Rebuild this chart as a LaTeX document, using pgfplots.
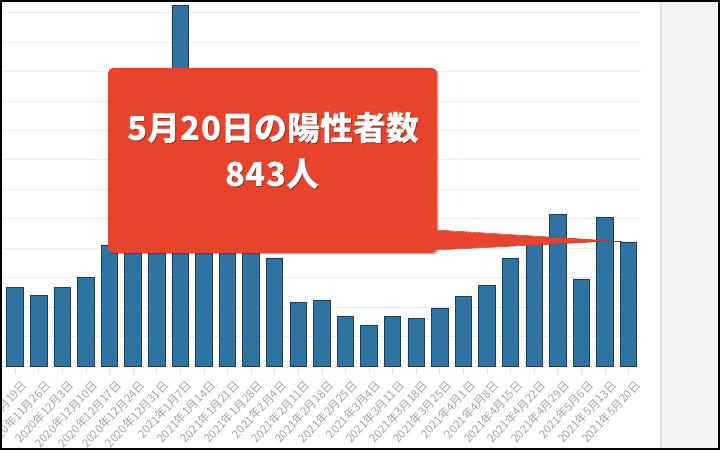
\documentclass[border=0pt]{standalone}
\usepackage{fontspec}
\usepackage{pgfplots}
\pgfplotsset{compat=1.18}
\newfontfamily\cjk{Noto Sans CJK JP}

\definecolor{barblue}{RGB}{47,115,160}
\definecolor{baredge}{RGB}{28,62,90}
\definecolor{callout}{RGB}{231,67,45}
\definecolor{calloutedge}{RGB}{190,50,32}
\definecolor{gridgray}{RGB}{236,236,236}
\definecolor{labelgray}{RGB}{165,165,165}
\definecolor{panelgray}{RGB}{244,244,244}

\begin{document}
\begin{tikzpicture}[x=1pt,y=1pt]
\useasboundingbox (0,0) rectangle (720,450);
\fill[white] (0,0) rectangle (720,450);
\fill[panelgray] (660,0) rectangle (720,450);
\draw[black!12, line width=1.5pt] (661,0) -- (661,450);

\begin{scope}
\clip (0,0) rectangle (659,450);
\begin{axis}[
    at={(3pt,84pt)}, anchor=south west,
    scale only axis, width=638pt, height=366pt,
    xmin=-0.51, xmax=26.53, ymin=0, ymax=2486,
    ybar, bar width=16.5pt,
    axis line style={draw=none},
    xtick=data,
    xticklabels={2020年11月19日,2020年11月26日,2020年12月3日,2020年12月10日,
        2020年12月17日,2020年12月24日,2020年12月31日,2021年1月7日,2021年1月14日,
        2021年1月21日,2021年1月28日,2021年2月4日,2021年2月11日,2021年2月18日,
        2021年2月25日,2021年3月4日,2021年3月11日,2021年3月18日,2021年3月25日,
        2021年4月1日,2021年4月8日,2021年4月15日,2021年4月22日,2021年4月29日,
        2021年5月6日,2021年5月13日,2021年5月20日},
    xticklabel style={rotate=47, anchor=east, inner sep=0pt,
        xshift=0pt, yshift=-13pt,
        font=\cjk\fontsize{11.5}{12}\selectfont, text=labelgray},
    xtick style={draw=black!10, line width=0.5pt},
    major tick length=8pt, tick align=outside,
    ytick={0,200,...,2400}, yticklabels={},
    ytick style={draw=none},
    ymajorgrids=true,
    grid style={gridgray, line width=0.8pt},
]
\addplot[fill=barblue, draw=baredge, line width=0.7pt] coordinates {
    (0,534) (1,481) (2,533) (3,602) (4,822) (5,888) (6,1337) (7,2447)
    (8,1502) (9,1471) (10,1064) (11,734) (12,434) (13,445) (14,340)
    (15,279) (16,335) (17,323) (18,394) (19,475) (20,545) (21,729)
    (22,861) (23,1027) (24,591) (25,1010) (26,843)
};
\end{axis}
\end{scope}

% callout
\fill[black, opacity=0.25, rounded corners=5pt] (109.5,195.5) rectangle (438.5,380.5);
\fill[callout, rounded corners=5pt] (108,197) rectangle (437,382);
\fill[callout] (430,220) -- (612,209) -- (430,200) -- cycle;
\draw[calloutedge, line width=0.5pt] (437,220) -- (612,209) -- (437,200);
\draw[black!70, line width=0.6pt] (612,209) -- (622,209);
\node[text=black, opacity=0.3, font=\cjk\bfseries\fontsize{33}{38}\selectfont]
    at (274.5,321) {5月20日の陽性者数};
\node[text=white, font=\cjk\bfseries\fontsize{33}{38}\selectfont]
    at (273.5,322) {5月20日の陽性者数};
\node[text=black, opacity=0.3, font=\cjk\bfseries\fontsize{33}{38}\selectfont]
    at (273.5,275) {843人};
\node[text=white, font=\cjk\bfseries\fontsize{33}{38}\selectfont]
    at (272.5,276) {843人};

\draw[black, line width=2pt] (1,1) rectangle (719,449);
\end{tikzpicture}
\end{document}
